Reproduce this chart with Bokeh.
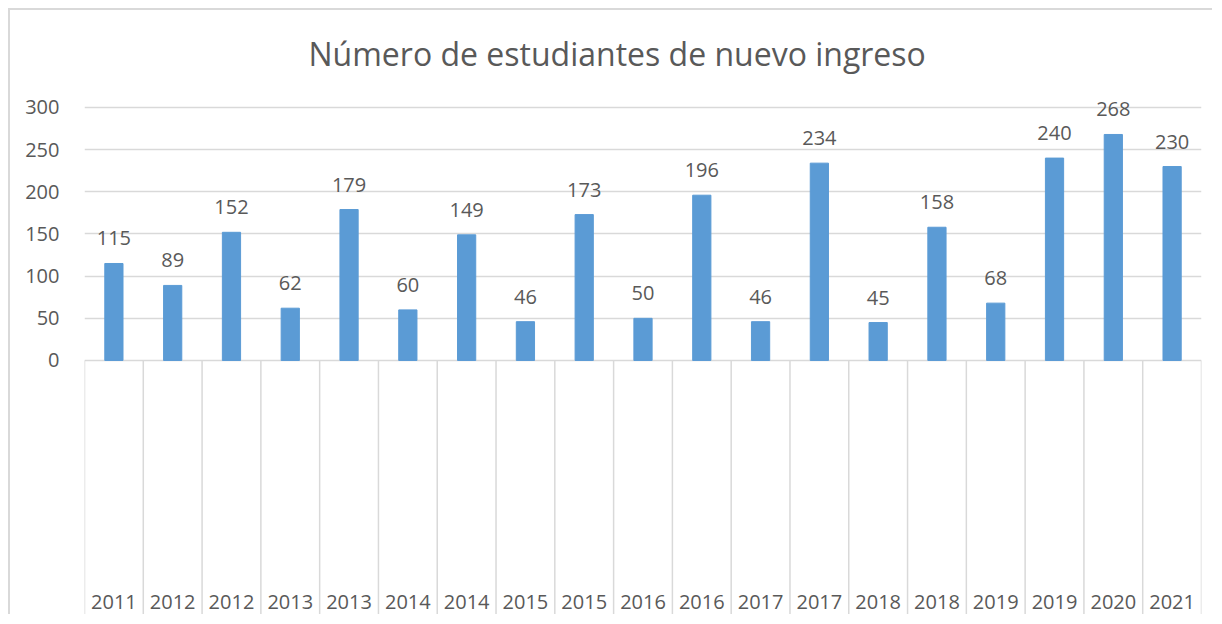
from bokeh.plotting import figure
from bokeh.models import ColumnDataSource, FixedTicker, Range1d
from bokeh.core.properties import value
from bokeh.embed import file_html
from bokeh.resources import INLINE

# ---- data ----
years = ["2011", "2012", "2012", "2013", "2013", "2014", "2014", "2015", "2015",
         "2016", "2016", "2017", "2017", "2018", "2018", "2019", "2019", "2020", "2021"]
students = [115, 89, 152, 62, 179, 60, 149, 46, 173, 50, 196, 46, 234, 45, 158, 68, 240, 268, 230]
y_ticks = [0, 50, 100, 150, 200, 250, 300]
title_text = "Número de estudiantes de nuevo ingreso"

FONT = "Open Sans"
TXT = "#595959"
GRID = "#D9D9D9"
BAR = "#5B9BD5"

n = len(years)
xs = list(range(n))
Y_MIN, Y_MAX = -302.4, 332.0
LABEL_Y = -286

p = figure(width=1204, height=606, output_backend="svg", toolbar_location=None,
           x_range=Range1d(-0.5, n - 0.5), y_range=Range1d(Y_MIN, Y_MAX),
           x_axis_type=None, title=title_text,
           min_border_left=74, min_border_right=13, min_border_bottom=1, min_border_top=70)
p.margin = (8, 0, 0, 8)
p.styles = {"border-left": "2px solid #D9D9D9", "border-top": "2px solid #D9D9D9"}
p.outline_line_color = None
p.background_fill_color = "white"
p.border_fill_color = "white"

p.title.align = "left"
p.title.offset = 224
p.title.text_font = FONT
p.title.text_font_size = "32px"
p.title.text_font_style = "normal"
p.title.text_color = TXT
p.title.standoff = 12

yaxis = p.yaxis[0]
yaxis.ticker = FixedTicker(ticks=y_ticks)
yaxis.axis_line_color = None
yaxis.major_tick_line_color = None
yaxis.minor_tick_line_color = None
yaxis.major_label_text_font = FONT
yaxis.major_label_text_font_size = "20px"
yaxis.major_label_text_color = TXT
yaxis.major_label_standoff = 19

p.ygrid.grid_line_color = GRID
p.ygrid.grid_line_width = 1.5
p.xgrid.grid_line_color = None

src = ColumnDataSource(dict(x=xs, y=students, lbl=[str(v) for v in students],
                            yr=years, ly=[LABEL_Y] * n))

# category dividers below the baseline
bounds = [i - 0.5 for i in range(n + 1)]
p.segment(x0=bounds, y0=[0] * len(bounds), x1=bounds, y1=[Y_MIN] * len(bounds),
          line_color=GRID, line_width=1.5)

p.vbar(x="x", top="y", bottom=0, width=0.31, source=src, fill_color=BAR, line_color=BAR)

p.text(x="x", y="y", text="lbl", source=src, text_align="center", text_baseline="bottom",
       y_offset=-18, text_font=value(FONT), text_font_size="20px", text_color=TXT)

p.text(x="x", y="ly", text="yr", source=src, text_align="center", text_baseline="middle",
       text_font=value(FONT), text_font_size="20px", text_color=TXT)

open("out.html", "w").write(file_html(p, INLINE))
